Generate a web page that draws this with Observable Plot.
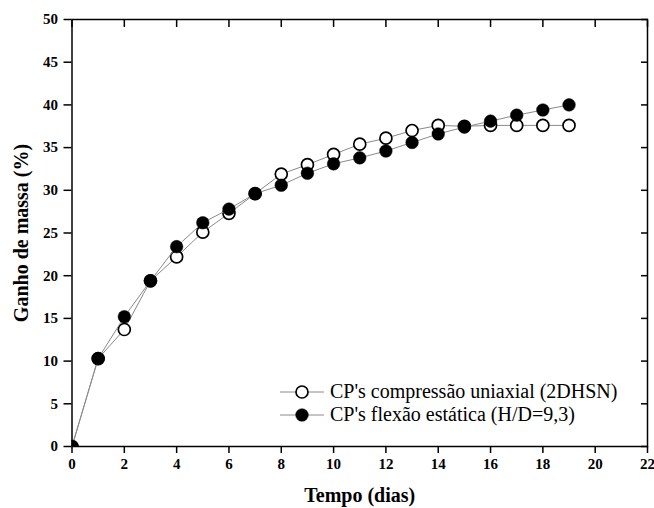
<!DOCTYPE html>
<html><head><meta charset="utf-8">
<script src="https://cdn.jsdelivr.net/npm/d3@7"></script>
<script src="https://cdn.jsdelivr.net/npm/@observablehq/plot@0.6"></script>
<style>
body{margin:0;background:#fff}
#wrap{position:relative;width:654px;height:508px;font-family:"Liberation Serif","Times New Roman",Times,"Nimbus Roman","DejaVu Serif",serif}
#wrap svg text{font-family:"Liberation Serif","Times New Roman",Times,"Nimbus Roman","DejaVu Serif",serif}
g[aria-label="x-axis label"] text, g[aria-label="y-axis label"] text{font-size:20px;font-weight:bold}
#legend{position:absolute;left:278px;top:380px;font-size:20px;color:#000;line-height:23px}
#legend .row{display:flex;align-items:center;height:23px}
#legend svg{margin-right:4px}
</style>
</head><body>
<div id="wrap"></div>
<script>
const days = [0,1,2,3,4,5,6,7,8,9,10,11,12,13,14,15,16,17,18,19];
const compressao = [0,10.3,13.7,19.4,22.2,25.1,27.3,29.6,31.9,33.0,34.2,35.4,36.1,37.0,37.6,37.5,37.6,37.6,37.6,37.6];
const flexao = [0,10.3,15.2,19.4,23.4,26.2,27.8,29.6,30.6,32.0,33.1,33.8,34.6,35.6,36.6,37.4,38.1,38.8,39.4,40.0];
const xTicks = [0,2,4,6,8,10,12,14,16,18,20,22];
const yTicks = [0,5,10,15,20,25,30,35,40,45,50];
const seriesNames = ["CP's compressão uniaxial (2DHSN)", "CP's flexão estática (H/D=9,3)"];
const xLabel = "Tempo (dias)";
const yLabel = "Ganho de massa (%)";

const rowsA = days.map((d,i)=>({dia:d, ganho:compressao[i], serie:seriesNames[0]}));
const rowsB = days.map((d,i)=>({dia:d, ganho:flexao[i], serie:seriesNames[1]}));

const chart = Plot.plot({
  width:654, height:508,
  marginLeft:71.5, marginRight:7, marginTop:19, marginBottom:62,
  style:{background:"white", color:"black", fontFamily:"'Liberation Serif', 'Times New Roman', Times, 'DejaVu Serif', serif"},
  x:{domain:[0,22]},
  y:{domain:[0,50]},
  marks:[
    Plot.axisY({ticks:yTicks, tickSize:8, tickPadding:6, fontSize:15, fontWeight:"bold", strokeWidth:1.5,
      label:yLabel, labelAnchor:"center", labelArrow:"none", labelOffset:58}),
    Plot.axisX({ticks:xTicks, tickSize:7, tickPadding:5, fontSize:15, fontWeight:"bold", strokeWidth:1.5,
      label:xLabel, labelAnchor:"center", labelArrow:"none", labelOffset:55}),
    Plot.axisX({anchor:"top", ticks:xTicks, tickSize:7, dy:7, tickFormat:()=>"", label:null, strokeWidth:1.5}),
    Plot.axisY({anchor:"right", ticks:yTicks, tickSize:7, dx:-7, tickFormat:()=>"", label:null, strokeWidth:1.5}),
    Plot.line(rowsA, {x:"dia", y:"ganho", stroke:"#8a8a8a", strokeWidth:1}),
    Plot.dot(rowsA, {x:"dia", y:"ganho", r:6, fill:"white", stroke:"black", strokeWidth:1.7, clip:true}),
    Plot.line(rowsB, {x:"dia", y:"ganho", stroke:"#8a8a8a", strokeWidth:1}),
    Plot.dot(rowsB, {x:"dia", y:"ganho", r:6.3, fill:"black", stroke:"black", strokeWidth:0.5, clip:true}),
    Plot.frame({stroke:"black", strokeWidth:1.5})
  ]
});
const wrap = document.getElementById("wrap");
wrap.appendChild(chart);

const legend = document.createElement("div");
legend.id = "legend";
const swatch = (filled) => `<svg width="48" height="20"><line x1="2" y1="10" x2="46" y2="10" stroke="#8a8a8a" stroke-width="1"/><circle cx="24" cy="10" r="${filled?6.3:6}" fill="${filled?'black':'white'}" stroke="black" stroke-width="${filled?0.5:1.7}"/></svg>`;
legend.innerHTML = seriesNames.map((n,i)=>`<div class="row">${swatch(i===1)}<span>${n}</span></div>`).join("");
wrap.appendChild(legend);
</script>
</body></html>
